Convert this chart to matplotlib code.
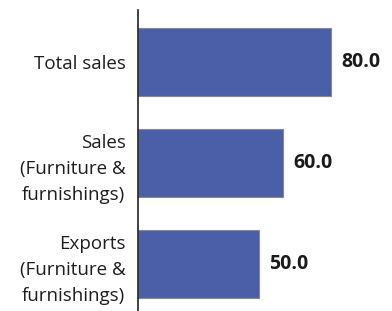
import matplotlib
matplotlib.use("Agg")
import matplotlib.pyplot as plt

categories = ["Total sales", "Sales\n(Furniture &\nfurnishings)", "Exports\n(Furniture &\nfurnishings)"]
values = [80.0, 60.0, 50.0]

plt.rcParams['font.family'] = ['Open Sans', 'DejaVu Sans']

W, H = 392, 311
fig = plt.figure(figsize=(W/100, H/100), dpi=100)
left, top, bottom = 138, 10, 311
ax = fig.add_axes([left/W, 1 - bottom/H, 1 - left/W, (bottom - top)/H])

pos = list(range(len(values)))
ax.barh(pos, values, height=0.67, color="#4a5fa8", edgecolor="#8a8a8a", linewidth=0.8)
ax.set_ylim(2.465, -0.515)
ax.set_xlim(0, (W - left) / 2.41)

for p, v in zip(pos, values):
    ax.text(v + 4.4, p, f"{v:.1f}", va="center", ha="left", fontsize=14,
            fontweight="bold", color="#1a1a1a")

ax.set_yticks(pos)
ax.set_yticklabels(categories, fontsize=13.5, color="#1e1e1e", linespacing=1.55)
ax.tick_params(axis="y", length=0, pad=9)
ax.set_xticks([])
for s in ["top", "right", "bottom"]:
    ax.spines[s].set_visible(False)
ax.spines["left"].set_color("#222222")
ax.spines["left"].set_linewidth(1.2)

fig.savefig("out.png", dpi=100)
